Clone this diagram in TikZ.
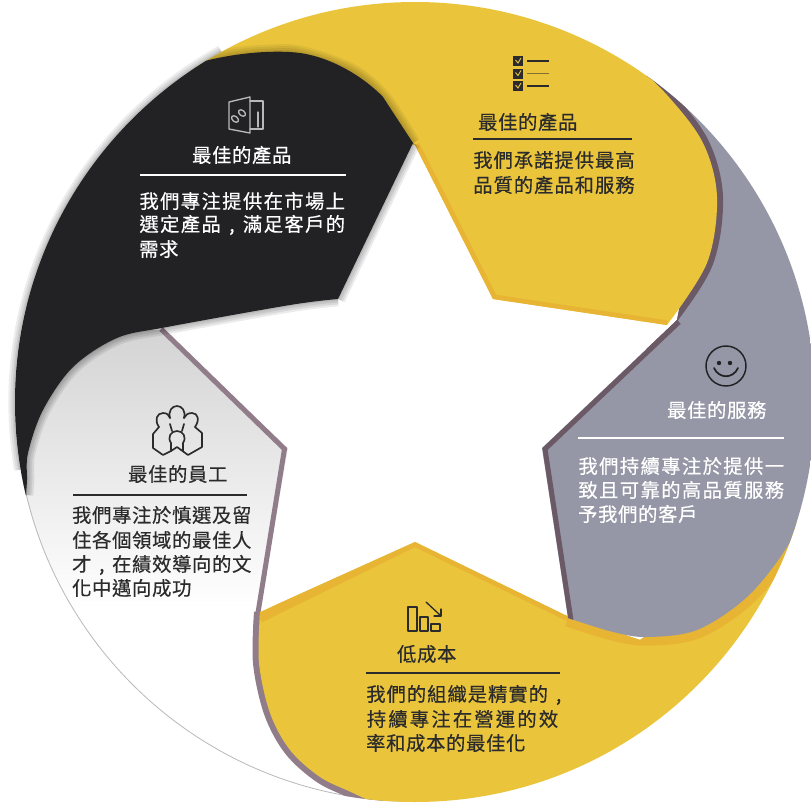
\documentclass[tikz,border=0pt]{standalone}
\usepackage{fontspec}
\newfontfamily\cjk[FakeBold=0.4]{Noto Sans CJK TC}
\definecolor{ylw}{HTML}{EAC53C}
\definecolor{org}{HTML}{E8B434}
\definecolor{blk}{HTML}{222224}
\definecolor{gry}{HTML}{9597A6}
\definecolor{mvA}{HTML}{917C8A}
\definecolor{mvB}{HTML}{6B5A66}
\definecolor{ink}{HTML}{2B2B2B}
\newdimen\pxu \pxu=0.75pt
\makeatletter
\newcommand\pch[2]{\@tfor\pch@c:=#2\do{\hbox to #1\pxu{\hss\pch@c\hss}}}
\makeatother
\tikzset{
  dk/.style={anchor=west,inner sep=0pt,text=ink,font=\cjk\fontsize{14.5}{16}\selectfont},
  lt/.style={anchor=west,inner sep=0pt,text=white,font=\cjk\fontsize{14.5}{16}\selectfont},
  rule/.style={line width=1.1pt},
  icon/.style={line width=1pt,line join=round,line cap=round}
}
\def\circ{(415,402) circle [radius=400]}
\def\ytedge{plot[smooth,tension=.55] coordinates {(620,50) (667,95) (703,143) (717,197) (707,263) (667,325)}}
\def\ytlong{plot[smooth,tension=.55] coordinates {(620,50) (667,95) (703,143) (717,197) (707,263) (667,325) (645,347)}}
\def\ytpath{\ytedge -- (493,299) -- (415,145) -- (300,120) -- (180,60) -- (180,-10) -- (620,-10) -- cycle}
\def\ybedge{plot[smooth,tension=.55] coordinates {(260,612) (259,663) (270,713) (290,750) (320,777) (353,793) (400,815)}}
\def\ybpath{\ybedge -- (860,815) -- (860,500) -- (800,520) -- (640,640) -- (565,615) -- (415,542) -- cycle}
\def\grlow{plot[smooth,tension=.55] coordinates {(568,618) (613,632) (647,637) (697,630) (747,597) (787,547) (815,490)}}
\def\grpath{\grlow -- (860,490) -- (860,60) -- (640,60) -- (700,200) -- (677,320) -- (542,448) -- cycle}
\def\wtpath{(160,328) -- (288,448) -- (258,620) -- (300,700) -- (420,820) -- (-10,820) -- (-10,300) -- cycle}
\def\bklow{plot[smooth,tension=.55] coordinates {(26,495) (27,480) (28,453) (43,410) (73,367) (117,338) (167,327) (290,305) (338,299)}}
\def\bktop{plot[smooth,tension=.55] coordinates {(413,143) (383,97) (350,70) (300,53) (267,52) (233,55) (205,61) (150,70)}}
\def\bkpath{\bklow -- (413,143) -- (383,97) .. controls (367,80) and (335,58) .. (300,53) .. controls (278,50) and (240,52) .. (205,61) -- (150,70) -- (-20,70) -- (-20,495) -- cycle}
\begin{document}
\begin{tikzpicture}[x=.75pt,y=-.75pt]
\useasboundingbox (0,0) rectangle (811,803);
\fill[white] (0,0) rectangle (811,803);
% soft shadow outside the black sector
\begin{scope}
  \clip (415,402) -- (204,20) -- (-40,20) -- (-40,480) -- cycle;
  \foreach \w in {10,7,4,2}{\draw[black,opacity=.07,line width=\w*1pt] \circ;}
\end{scope}
\begin{scope}
  \clip \circ;
  % white sector
  \begin{scope}
    \clip \wtpath;
    \fill[white] (-10,300) rectangle (450,820);
    \shade[top color=black!17,bottom color=white] (-10,330) rectangle (450,610);
    \draw[gray!55,line width=.6pt] (415,402) circle [radius=399.5];
  \end{scope}
  \draw[mvA,line width=3.75pt] (161,329) -- (284.5,449) -- (256,625);
  % lower yellow sector
  \draw[mvA,line width=9pt] \ybedge;
  \begin{scope}
    \clip \ybpath;
    \fill[ylw] (200,500) rectangle (860,830);
    \draw[org,line width=7pt] (260,618) -- (415,542) -- (565,615) -- (640,640);
    \draw[org,line width=13pt] \grlow;
  \end{scope}
  % grey sector
  \fill[gry] \grpath;
  \begin{scope}
    \clip \grpath;
    \draw[mvB,line width=3.75pt] (679,322) -- (545,449) -- (571,620);
    \draw[mvB,line width=9pt] \ytlong;
  \end{scope}
  % upper yellow sector
  \begin{scope}
    \clip \ytpath;
    \fill[ylw] (170,-20) rectangle (730,340);
    \draw[org,line width=7pt] (415,145) -- (493,299) -- (667,325);
  \end{scope}
  % shadow of the black sector
  \foreach \w in {11,8,5,2}{
    \draw[black,opacity=.08,line width=\w*1pt] \bklow;
    \draw[black,opacity=.06,line width=\w*1pt] \bktop;
    \draw[black,opacity=.08,line width=\w*1pt] (338,299) -- (413,143);
  }
  % black sector
  \fill[blk] \bkpath;
\end{scope}
% icon: safe
\begin{scope}[gray!55,icon]
  \draw (229,102) -- (250,97) -- (250,133) -- (229,129) -- cycle;
  \draw (250,101) -- (263,101) -- (263,129) -- (250,129);
  \draw (258,112) -- (258,127);
  \draw[rotate around={-40:(235,119)}] (235,119) ellipse (4 and 2.6);
  \draw[rotate around={-40:(242,113)}] (242,113) ellipse (4 and 2.6);
\end{scope}
% icon: checklist
\begin{scope}[ink]
  \foreach \y/\c in {61/ink,73.5/ink!55!ylw,86/ink}{
    \fill[ink] (513,\y-5) rectangle (523,\y+5);
    \draw[ylw,line width=.7pt] (515.5,\y-1) -- (518,\y+2) -- (521,\y-3);
    \draw[\c,line width=1.1pt] (527,\y) -- (549,\y);
  }
\end{scope}
% icon: smile
\begin{scope}[blk,icon]
  \draw[line width=1.1pt] (726,366) circle [radius=20];
  \fill (719,363) circle [radius=2.2];
  \fill (730,363) circle [radius=2.2];
  \draw[line width=1.3pt] (714,368) .. controls (719,379) and (733,379) .. (738,368);
\end{scope}
% icon: people
\begin{scope}[ink,icon,line width=1.25pt]
  \draw (159,427) .. controls (154,420) and (157,413) .. (163,413) .. controls (167,413) and (169,415) .. (170,418);
  \draw (170,418) .. controls (168,411) and (172,406) .. (177,406) .. controls (182,406) and (186,411) .. (184,418);
  \draw (184,418) .. controls (185,415) and (188,413) .. (192,413) .. controls (198,413) and (200,420) .. (195,427);
  \draw (159,427) -- (153,434) -- (153,448) -- (163,455) -- (171,451) -- (177,447) -- (188,455) -- (202,447) -- (202,433) -- (195,427);
  \draw (171,443) .. controls (167,437) and (171,431) .. (177,431) .. controls (183,431) and (187,437) .. (183,443);
  \draw (171,443) -- (171,451);
  \draw (183,443) -- (183,451);
  \draw (170,424) -- (172,431);
  \draw (184,424) -- (182,431);
\end{scope}
% icon: bars
\begin{scope}[ink,icon]
  \draw (408,607) rectangle (417,631);
  \draw (420,617) rectangle (428,631);
  \draw (431,624) rectangle (440,631);
  \draw (426,602) -- (441,616);
  \draw (441,609) -- (441,616) -- (434,616);
\end{scope}
% upper yellow text
\node[dk] (h1) at (477.5,122) {\pch{20}{最佳的產品}};
\draw[ink,rule] (473,139) -- (632,139);
\node[dk] (a1) at (472.5,160) {\pch{20.3}{我們承諾提供最高}};
\node[dk] (a2) at (472.5,185) {\pch{20.3}{品質的產品和服務}};
% black text
\node[lt] (h2) at (191.5,155) {\pch{20}{最佳的產品}};
\draw[white,rule] (140,175) -- (346,175);
\node[lt] (b1) at (138.5,201) {\pch{20.7}{我們專注提供在市場上}};
\node[lt] (b2) at (138.5,225) {\pch{20.7}{選定產品,滿足客戶的}};
\node[lt] (b3) at (138.5,249) {\pch{20}{需求}};
% grey text
\node[lt] (h3) at (666.5,410) {\pch{20}{最佳的服務}};
\draw[white,rule] (578,438) -- (784,438);
\node[lt] (c1) at (577.5,466) {\pch{20.7}{我們持續專注於提供一}};
\node[lt] (c2) at (577.5,490) {\pch{20.7}{致且可靠的高品質服務}};
\node[lt] (c3) at (577.5,514) {\pch{20}{予我們的客戶}};
% white text
\node[dk] (h4) at (127.5,474) {\pch{20}{最佳的員工}};
\draw[ink,rule] (73,495) -- (247,495);
\node[dk] (d1) at (71.5,515) {\pch{20}{我們專注於慎選及留}};
\node[dk] (d2) at (71.5,540) {\pch{20}{住各個領域的最佳人}};
\node[dk] (d3) at (71.5,565) {\pch{20}{才,在績效導向的文}};
\node[dk] (d4) at (71.5,588) {\pch{20}{化中邁向成功}};
% lower yellow text
\node[dk] (h5) at (396.5,654) {\pch{20}{低成本}};
\draw[ink,rule] (366,673) -- (560,673);
\node[dk] (e1) at (365.5,695) {\pch{20.3}{我們的組織是精實的,}};
\node[dk] (e2) at (365.5,719) {\pch{21.5}{持續專注在營運的效}};
\node[dk] (e3) at (365.5,743) {\pch{20}{率和成本的最佳化}};
\end{tikzpicture}
\end{document}
